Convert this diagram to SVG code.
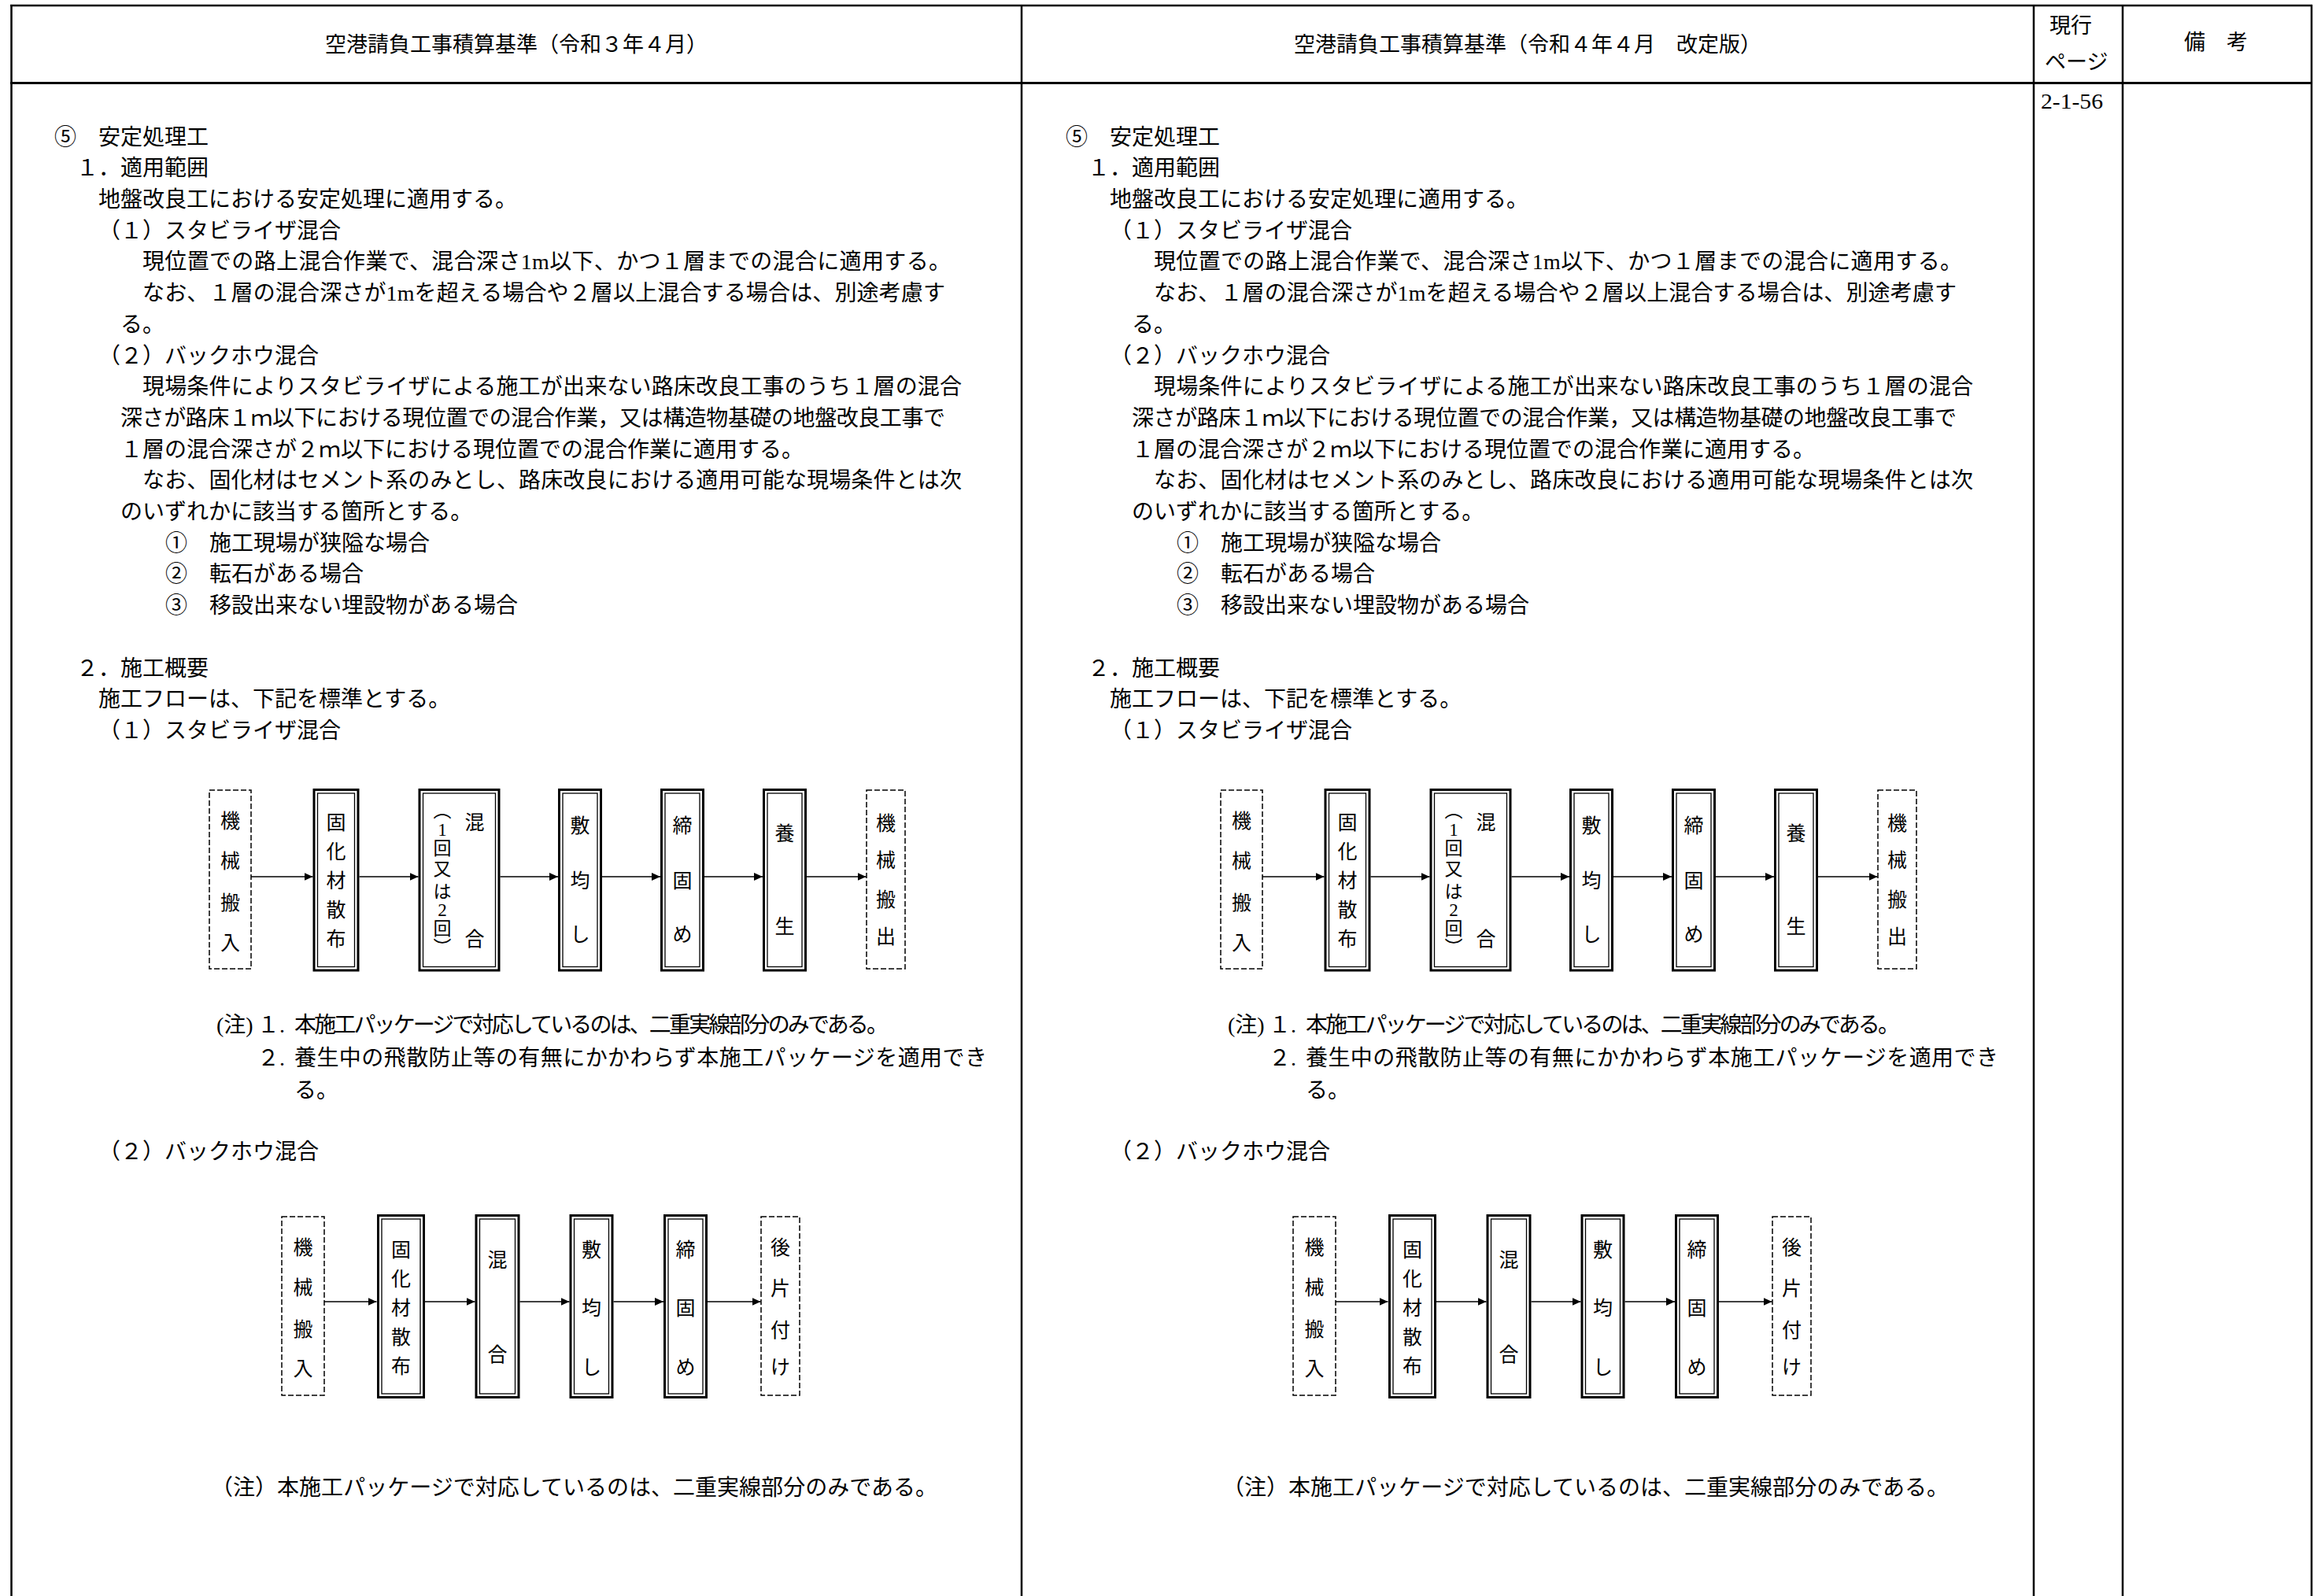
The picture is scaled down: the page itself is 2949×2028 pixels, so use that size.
<svg xmlns="http://www.w3.org/2000/svg" width="2949" height="2028" viewBox="0 0 2949 2028">
<defs>
<style>
text{font-family:"Liberation Serif","Noto Sans CJK JP",serif;fill:#000}
.t{font-size:28px}
.h{font-size:27px}
.hm{font-size:27px;text-anchor:middle}
.v{font-size:25px;text-anchor:middle}
.vs{font-size:23px;text-anchor:middle}
.pg{font-size:27px}
.g{stroke:#000;stroke-width:2.5;fill:none}
.gh{stroke:#000;stroke-width:3.2;fill:none}
.dash{fill:#fff;stroke:#000;stroke-width:1.5;stroke-dasharray:7 3}
.dbo{fill:#fff;stroke:#000;stroke-width:3}
.dbi{fill:none;stroke:#000;stroke-width:1.3}
.c{stroke:#000;stroke-width:1.5;fill:none;marker-end:url(#ah)}
</style>
<marker id="ah" markerUnits="userSpaceOnUse" markerWidth="11" markerHeight="10" refX="11" refY="5" orient="auto"><path d="M0,0 L11,5 L0,10 Z" fill="#000"/></marker>
</defs>
<rect width="2949" height="2028" fill="#fff"/>
<g id="table">
<line class="g" x1="13" y1="7" x2="2938" y2="7"/>
<line class="gh" x1="13" y1="105.5" x2="2938" y2="105.5"/>
<line class="g" x1="14.5" y1="6" x2="14.5" y2="2028"/>
<line class="g" x1="1298" y1="6" x2="1298" y2="2028"/>
<line class="g" x1="2584" y1="6" x2="2584" y2="2028"/>
<line class="g" x1="2697" y1="6" x2="2697" y2="2028"/>
<line class="g" x1="2937" y1="6" x2="2937" y2="2028"/>
</g>
<g id="header">
<text id="hdr-left" class="hm" x="656" y="66">空港請負工事積算基準（令和３年４月）</text>
<text id="hdr-right" class="hm" x="1941" y="66">空港請負工事積算基準（令和４年４月　改定版）</text>
<text id="hdr-page1" class="h" x="2604" y="42">現行</text>
<text id="hdr-page2" class="h" x="2598" y="88">ページ</text>
<text id="hdr-note" class="h" x="2775" y="63">備　考</text>
<text id="page-no" class="pg" x="2593" y="138" textLength="79" lengthAdjust="spacingAndGlyphs">2-1-56</text>
</g>

<g id="col-left">
<g id="text-left" class="t">
<text x="69" y="183.6">⑤　安定処理工</text>
<text x="97" y="223.3">１．適用範囲</text>
<text x="125" y="263">地盤改良工における安定処理に適用する。</text>
<text x="125" y="302.7">（１）スタビライザ混合</text>
<text x="181" y="342.4" textLength="1027">現位置での路上混合作業で、混合深さ1m以下、かつ１層までの混合に適用する。</text>
<text x="181" y="382.1" textLength="1020">なお、１層の混合深さが1mを超える場合や２層以上混合する場合は、別途考慮す</text>
<text x="153" y="421.8">る。</text>
<text x="125" y="461.5">（２）バックホウ混合</text>
<text x="181" y="501.2" textLength="1041">現場条件によりスタビライザによる施工が出来ない路床改良工事のうち１層の混合</text>
<text x="153" y="540.9" textLength="1048">深さが路床１ｍ以下における現位置での混合作業，又は構造物基礎の地盤改良工事で</text>
<text x="153" y="580.6" textLength="868">１層の混合深さが２ｍ以下における現位置での混合作業に適用する。</text>
<text x="181" y="620.3" textLength="1041">なお、固化材はセメント系のみとし、路床改良における適用可能な現場条件とは次</text>
<text x="153" y="660">のいずれかに該当する箇所とする。</text>
<text x="210" y="699.7">①　施工現場が狭隘な場合</text>
<text x="210" y="739.4">②　転石がある場合</text>
<text x="210" y="779.1">③　移設出来ない埋設物がある場合</text>
<text x="97" y="858.5">２．施工概要</text>
<text x="125" y="898.2">施工フローは、下記を標準とする。</text>
<text x="125" y="937.9">（１）スタビライザ混合</text>
<text x="275" y="1311.6">(注)</text>
<text x="327" y="1311.6">１.</text>
<text x="374" y="1311.6" textLength="755">本施工パッケージで対応しているのは、二重実線部分のみである。</text>
<text x="327" y="1353.6">２.</text>
<text x="374" y="1353.6" textLength="880">養生中の飛散防止等の有無にかかわらず本施工パッケージを適用でき</text>
<text x="374" y="1394.6">る。</text>
<text x="125" y="1472.6">（２）バックホウ混合</text>
<text x="268" y="1899.6" textLength="923">（注）本施工パッケージで対応しているのは、二重実線部分のみである。</text>
</g>
<g id="l1-kikai-hannyu"><rect class="dash" x="266" y="1004" width="53" height="227"/><text class="v" x="292.5 292.5 292.5 292.5" y="1051.5 1102.5 1155.5 1206.5">機械搬入</text></g>
<g id="l1-kokazai"><rect class="dbo" x="399" y="1003.5" width="56" height="229.5"/><rect class="dbi" x="403.5" y="1008" width="47" height="220.5"/><text class="v" x="427 427 427 427 427" y="1053.5 1090.5 1127.5 1164.5 1201.5">固化材散布</text></g>
<g id="l1-kongo"><rect class="dbo" x="533" y="1003.5" width="101" height="229.5"/><rect class="dbi" x="537.5" y="1008" width="92" height="220.5"/><text class="v" x="603 603" y="1053.5 1201.5">混合</text><text class="vs" x="562 562 562 562 562 562 562 562" y="1038 1061.7 1085.7 1111.7 1140.7 1163.7 1187.7 1212">︵1回又は2回︶</text></g>
<g id="l1-shikinarashi"><rect class="dbo" x="710.5" y="1003.5" width="53" height="229.5"/><rect class="dbi" x="715" y="1008" width="44" height="220.5"/><text class="v" x="737 737 737" y="1057.5 1128 1196">敷均し</text></g>
<g id="l1-shimekatame"><rect class="dbo" x="840.5" y="1003.5" width="53" height="229.5"/><rect class="dbi" x="845" y="1008" width="44" height="220.5"/><text class="v" x="867 867 867" y="1057.5 1128 1196">締固め</text></g>
<g id="l1-yojo"><rect class="dbo" x="970.5" y="1003.5" width="53" height="229.5"/><rect class="dbi" x="975" y="1008" width="44" height="220.5"/><text class="v" x="997 997" y="1067.5 1185.5">養生</text></g>
<g id="l1-kikai-hanshutsu"><rect class="dash" x="1101" y="1004" width="49" height="227"/><text class="v" x="1125.5 1125.5 1125.5 1125.5" y="1054.5 1101.5 1151.5 1198.5">機械搬出</text></g>
<g id="l2-kikai-hannyu"><rect class="dash" x="358" y="1546" width="54" height="227"/><text class="v" x="385 385 385 385" y="1593.5 1644.5 1697.5 1747.5">機械搬入</text></g>
<g id="l2-kokazai"><rect class="dbo" x="480.5" y="1544.5" width="58" height="231"/><rect class="dbi" x="485" y="1549" width="49" height="222"/><text class="v" x="509.5 509.5 509.5 509.5 509.5" y="1596.5 1633.5 1670.5 1707.5 1744.5">固化材散布</text></g>
<g id="l2-kongo"><rect class="dbo" x="605" y="1544.5" width="54" height="231"/><rect class="dbi" x="609.5" y="1549" width="45" height="222"/><text class="v" x="632 632" y="1609.5 1729.5">混合</text></g>
<g id="l2-shikinarashi"><rect class="dbo" x="725" y="1544.5" width="53" height="231"/><rect class="dbi" x="729.5" y="1549" width="44" height="222"/><text class="v" x="751.5 751.5 751.5" y="1596.5 1670.5 1745.5">敷均し</text></g>
<g id="l2-shimekatame"><rect class="dbo" x="844.5" y="1544.5" width="53" height="231"/><rect class="dbi" x="849" y="1549" width="44" height="222"/><text class="v" x="871 871 871" y="1596.5 1670.5 1745.5">締固め</text></g>
<g id="l2-atokataduke"><rect class="dash" x="967" y="1546" width="49" height="227"/><text class="v" x="991.5 991.5 991.5 991.5" y="1593.5 1645.5 1698.5 1745.5">後片付け</text></g>
</g>

<g id="col-right" transform="translate(1285,0)">
<g id="text-right" class="t">
<text x="69" y="183.6">⑤　安定処理工</text>
<text x="97" y="223.3">１．適用範囲</text>
<text x="125" y="263">地盤改良工における安定処理に適用する。</text>
<text x="125" y="302.7">（１）スタビライザ混合</text>
<text x="181" y="342.4" textLength="1027">現位置での路上混合作業で、混合深さ1m以下、かつ１層までの混合に適用する。</text>
<text x="181" y="382.1" textLength="1020">なお、１層の混合深さが1mを超える場合や２層以上混合する場合は、別途考慮す</text>
<text x="153" y="421.8">る。</text>
<text x="125" y="461.5">（２）バックホウ混合</text>
<text x="181" y="501.2" textLength="1041">現場条件によりスタビライザによる施工が出来ない路床改良工事のうち１層の混合</text>
<text x="153" y="540.9" textLength="1048">深さが路床１ｍ以下における現位置での混合作業，又は構造物基礎の地盤改良工事で</text>
<text x="153" y="580.6" textLength="868">１層の混合深さが２ｍ以下における現位置での混合作業に適用する。</text>
<text x="181" y="620.3" textLength="1041">なお、固化材はセメント系のみとし、路床改良における適用可能な現場条件とは次</text>
<text x="153" y="660">のいずれかに該当する箇所とする。</text>
<text x="210" y="699.7">①　施工現場が狭隘な場合</text>
<text x="210" y="739.4">②　転石がある場合</text>
<text x="210" y="779.1">③　移設出来ない埋設物がある場合</text>
<text x="97" y="858.5">２．施工概要</text>
<text x="125" y="898.2">施工フローは、下記を標準とする。</text>
<text x="125" y="937.9">（１）スタビライザ混合</text>
<text x="275" y="1311.6">(注)</text>
<text x="327" y="1311.6">１.</text>
<text x="374" y="1311.6" textLength="755">本施工パッケージで対応しているのは、二重実線部分のみである。</text>
<text x="327" y="1353.6">２.</text>
<text x="374" y="1353.6" textLength="880">養生中の飛散防止等の有無にかかわらず本施工パッケージを適用でき</text>
<text x="374" y="1394.6">る。</text>
<text x="125" y="1472.6">（２）バックホウ混合</text>
<text x="268" y="1899.6" textLength="923">（注）本施工パッケージで対応しているのは、二重実線部分のみである。</text>
</g>
<g id="r1-kikai-hannyu"><rect class="dash" x="266" y="1004" width="53" height="227"/><text class="v" x="292.5 292.5 292.5 292.5" y="1051.5 1102.5 1155.5 1206.5">機械搬入</text></g>
<g id="r1-kokazai"><rect class="dbo" x="399" y="1003.5" width="56" height="229.5"/><rect class="dbi" x="403.5" y="1008" width="47" height="220.5"/><text class="v" x="427 427 427 427 427" y="1053.5 1090.5 1127.5 1164.5 1201.5">固化材散布</text></g>
<g id="r1-kongo"><rect class="dbo" x="533" y="1003.5" width="101" height="229.5"/><rect class="dbi" x="537.5" y="1008" width="92" height="220.5"/><text class="v" x="603 603" y="1053.5 1201.5">混合</text><text class="vs" x="562 562 562 562 562 562 562 562" y="1038 1061.7 1085.7 1111.7 1140.7 1163.7 1187.7 1212">︵1回又は2回︶</text></g>
<g id="r1-shikinarashi"><rect class="dbo" x="710.5" y="1003.5" width="53" height="229.5"/><rect class="dbi" x="715" y="1008" width="44" height="220.5"/><text class="v" x="737 737 737" y="1057.5 1128 1196">敷均し</text></g>
<g id="r1-shimekatame"><rect class="dbo" x="840.5" y="1003.5" width="53" height="229.5"/><rect class="dbi" x="845" y="1008" width="44" height="220.5"/><text class="v" x="867 867 867" y="1057.5 1128 1196">締固め</text></g>
<g id="r1-yojo"><rect class="dbo" x="970.5" y="1003.5" width="53" height="229.5"/><rect class="dbi" x="975" y="1008" width="44" height="220.5"/><text class="v" x="997 997" y="1067.5 1185.5">養生</text></g>
<g id="r1-kikai-hanshutsu"><rect class="dash" x="1101" y="1004" width="49" height="227"/><text class="v" x="1125.5 1125.5 1125.5 1125.5" y="1054.5 1101.5 1151.5 1198.5">機械搬出</text></g>
<g id="r2-kikai-hannyu"><rect class="dash" x="358" y="1546" width="54" height="227"/><text class="v" x="385 385 385 385" y="1593.5 1644.5 1697.5 1747.5">機械搬入</text></g>
<g id="r2-kokazai"><rect class="dbo" x="480.5" y="1544.5" width="58" height="231"/><rect class="dbi" x="485" y="1549" width="49" height="222"/><text class="v" x="509.5 509.5 509.5 509.5 509.5" y="1596.5 1633.5 1670.5 1707.5 1744.5">固化材散布</text></g>
<g id="r2-kongo"><rect class="dbo" x="605" y="1544.5" width="54" height="231"/><rect class="dbi" x="609.5" y="1549" width="45" height="222"/><text class="v" x="632 632" y="1609.5 1729.5">混合</text></g>
<g id="r2-shikinarashi"><rect class="dbo" x="725" y="1544.5" width="53" height="231"/><rect class="dbi" x="729.5" y="1549" width="44" height="222"/><text class="v" x="751.5 751.5 751.5" y="1596.5 1670.5 1745.5">敷均し</text></g>
<g id="r2-shimekatame"><rect class="dbo" x="844.5" y="1544.5" width="53" height="231"/><rect class="dbi" x="849" y="1549" width="44" height="222"/><text class="v" x="871 871 871" y="1596.5 1670.5 1745.5">締固め</text></g>
<g id="r2-atokataduke"><rect class="dash" x="967" y="1546" width="49" height="227"/><text class="v" x="991.5 991.5 991.5 991.5" y="1593.5 1645.5 1698.5 1745.5">後片付け</text></g>
</g>

<g id="connectors">
<g id="conn-left">
<line class="c" x1="319" y1="1114" x2="397.5" y2="1114"/>
<line class="c" x1="456.5" y1="1114" x2="531.5" y2="1114"/>
<line class="c" x1="635.5" y1="1114" x2="709" y2="1114"/>
<line class="c" x1="765" y1="1114" x2="839" y2="1114"/>
<line class="c" x1="895" y1="1114" x2="969" y2="1114"/>
<line class="c" x1="1025" y1="1114" x2="1100.5" y2="1114"/>
<line class="c" x1="412" y1="1654" x2="478.5" y2="1654"/>
<line class="c" x1="540" y1="1654" x2="603.5" y2="1654"/>
<line class="c" x1="660.5" y1="1654" x2="723.5" y2="1654"/>
<line class="c" x1="779.5" y1="1654" x2="843" y2="1654"/>
<line class="c" x1="899" y1="1654" x2="966.5" y2="1654"/>
</g>
<g id="conn-right" transform="translate(1285,0)">
<line class="c" x1="319" y1="1114" x2="397.5" y2="1114"/>
<line class="c" x1="456.5" y1="1114" x2="531.5" y2="1114"/>
<line class="c" x1="635.5" y1="1114" x2="709" y2="1114"/>
<line class="c" x1="765" y1="1114" x2="839" y2="1114"/>
<line class="c" x1="895" y1="1114" x2="969" y2="1114"/>
<line class="c" x1="1025" y1="1114" x2="1100.5" y2="1114"/>
<line class="c" x1="412" y1="1654" x2="478.5" y2="1654"/>
<line class="c" x1="540" y1="1654" x2="603.5" y2="1654"/>
<line class="c" x1="660.5" y1="1654" x2="723.5" y2="1654"/>
<line class="c" x1="779.5" y1="1654" x2="843" y2="1654"/>
<line class="c" x1="899" y1="1654" x2="966.5" y2="1654"/>
</g>
</g>
</svg>
